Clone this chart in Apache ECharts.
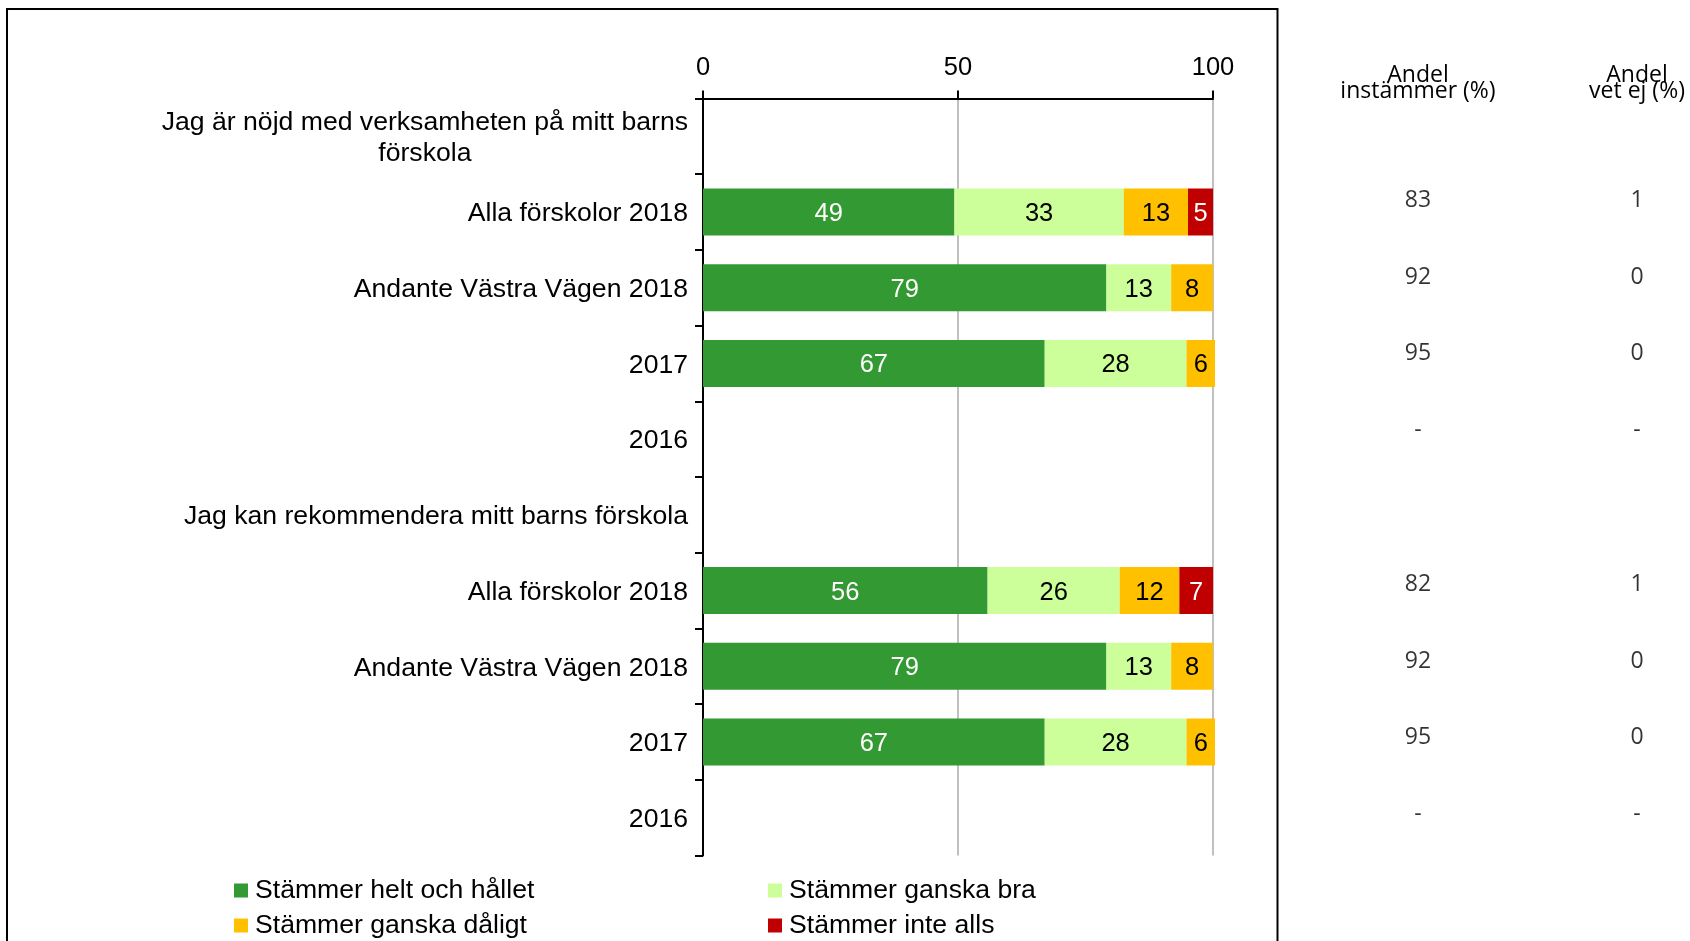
<!DOCTYPE html>
<html>
<head>
<meta charset="utf-8">
<script src="https://cdn.jsdelivr.net/npm/echarts@6/dist/echarts.min.js"></script>
<style>
  html, body { margin: 0; padding: 0; background: #fff; }
  #chart { width: 1690px; height: 941px; }
</style>
</head>
<body>
<div id="chart"></div>
<script>
// rows of the chart, top to bottom
var categories = [
    'Jag är nöjd med verksamheten på mitt barns\nförskola',
    'Alla förskolor 2018',
    'Andante Västra Vägen 2018',
    '2017',
    '2016',
    'Jag kan rekommendera mitt barns förskola',
    'Alla förskolor 2018',
    'Andante Västra Vägen 2018',
    '2017',
    '2016'
];

var seriesNames = ['Stämmer helt och hållet', 'Stämmer ganska bra', 'Stämmer ganska dåligt', 'Stämmer inte alls'];
var seriesColors = ['#339933', '#CCFF99', '#FFC000', '#C00000'];
var labelColors = ['#fff', '#000', '#000', '#fff'];

// percentages per row (null = no bar)
var heltOchHallet = [null, 49.3, 79.1, 67.0, null, null, 55.8, 79.1, 67.0, null];
var ganskaBra     = [null, 33.2, 12.7, 27.8, null, null, 25.9, 12.7, 27.8, null];
var ganskaDaligt  = [null, 12.6, 8.2, 5.6, null, null, 11.7, 8.2, 5.6, null];
var inteAlls      = [null, 4.9, null, null, null, null, 6.6, null, null, null];

// side table
var tableHeaders = ['Andel\ninstämmer (%)', 'Andel\nvet ej (%)'];
var andelInstammer = ['', '83', '92', '95', '-', '', '82', '92', '95', '-'];
var andelVetEj     = ['', '1', '0', '0', '-', '', '1', '0', '0', '-'];

var xTicks = { min: 0, max: 100, interval: 50 };

var arial = 'Liberation Sans, Arial, sans-serif';
var calibri = 'Open Sans, sans-serif';

var chart = echarts.init(document.getElementById('chart'));

var barData = [heltOchHallet, ganskaBra, ganskaDaligt, inteAlls];
var series = barData.map(function (vals, i) {
    return {
        name: seriesNames[i],
        type: 'bar',
        stack: 'total',
        xAxisIndex: 0,
        yAxisIndex: 0,
        barWidth: '62%',
        clip: false,
        data: vals,
        itemStyle: { color: seriesColors[i] },
        label: {
            show: true,
            position: 'inside',
            offset: [0, 2],
            color: labelColors[i],
            fontSize: 25.5,
            fontFamily: arial,
            formatter: function (p) { return Math.round(p.value); }
        }
    };
});

[andelInstammer, andelVetEj].forEach(function (col, c) {
    var pts = [];
    col.forEach(function (txt, r) {
        if (txt !== '') pts.push([c, r]);
    });
    series.push({
        type: 'scatter',
        xAxisIndex: 1,
        yAxisIndex: 1,
        symbolSize: 0,
        data: pts,
        label: {
            show: true,
            position: 'inside',
            color: '#000',
            fontSize: 23,
            fontFamily: calibri,
            formatter: function (p) { return col[p.value[1]]; }
        }
    });
});

var legendPos = [[234, 877], [768, 877], [234, 912], [768, 912]];
var legends = seriesNames.map(function (name, i) {
    return {
        data: [name],
        left: legendPos[i][0],
        top: legendPos[i][1],
        padding: 0,
        icon: 'rect',
        itemWidth: 14,
        itemHeight: 14,
        selectedMode: false,
        textStyle: {
            fontSize: 26.6,
            fontFamily: arial,
            color: '#000',
            padding: [0, 0, 0, 2]
        }
    };
});

var option = {
    animation: false,
    backgroundColor: '#fff',
    grid: [
        { left: 703, right: 477, top: 98.5, bottom: 85.5, outerBoundsMode: 'none' },
        { left: 1418, right: 53, top: 85, bottom: 88, outerBoundsMode: 'none' }
    ],
    legend: legends,
    xAxis: [
        {
            gridIndex: 0,
            type: 'value',
            position: 'top',
            min: xTicks.min,
            max: xTicks.max,
            interval: xTicks.interval,
            axisLine: { show: true, lineStyle: { color: '#000', width: 2 } },
            axisTick: { show: true, length: 8, lineStyle: { color: '#000', width: 2 } },
            axisLabel: { fontSize: 25.5, fontFamily: arial, color: '#000', margin: 18 },
            splitLine: { show: true, lineStyle: { color: '#c0c0c0', width: 2 } }
        },
        {
            gridIndex: 1,
            type: 'category',
            position: 'top',
            data: tableHeaders,
            boundaryGap: false,
            axisLine: { show: false },
            axisTick: { show: false },
            splitLine: { show: false },
            axisLabel: {
                interval: 0,
                margin: 2,
                verticalAlign: 'middle',
                fontSize: 23,
                lineHeight: 16,
                fontFamily: calibri,
                color: '#000'
            }
        }
    ],
    yAxis: [
        {
            gridIndex: 0,
            type: 'category',
            data: categories,
            inverse: true,
            axisLine: { show: true, lineStyle: { color: '#000', width: 2 } },
            axisTick: { show: true, length: 8, lineStyle: { color: '#000', width: 2 } },
            splitLine: { show: false },
            axisLabel: {
                interval: 0,
                margin: 15,
                color: '#000',
                fontSize: 26.6,
                fontFamily: arial,
                padding: [4, 0, 0, 0],
                formatter: function (v) {
                    return v.split('\n').map(function (l) { return '{c|' + l + '}'; }).join('\n');
                },
                rich: {
                    c: { align: 'center', fontSize: 26.6, fontFamily: arial, color: '#000', lineHeight: 31 }
                }
            }
        },
        {
            gridIndex: 1,
            type: 'category',
            data: categories,
            inverse: true,
            show: false
        }
    ],
    graphic: [
        {
            type: 'rect',
            silent: true,
            z: -10,
            shape: { x: 7, y: 9, width: 1270.5, height: 1000 },
            style: { fill: 'none', stroke: '#000', lineWidth: 2 }
        }
    ],
    series: series
};

chart.setOption(option);

window.addEventListener('resize', function () {
    chart.resize();
});
</script>
</body>
</html>
